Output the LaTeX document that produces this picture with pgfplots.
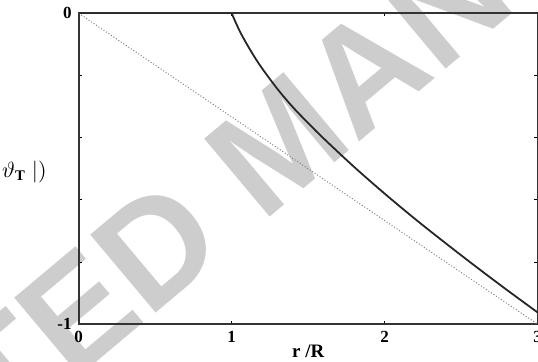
\documentclass[border=0pt]{standalone}
\usepackage{fontspec}
\setmainfont{Liberation Serif}
\newfontfamily\wmfont{Liberation Sans}
\usepackage{pgfplots}
\pgfplotsset{compat=1.18}
\pgfdeclarelayer{background}
\pgfsetlayers{background,main}
\definecolor{wm}{RGB}{205,205,205}
\newcommand{\ylab}{\mbox{$\mathbf{\vartheta}_{\mathbf{T}}\;\mathbf{|)}$}}
\begin{document}
\begin{tikzpicture}
\begin{axis}[name=ax, scale only axis, width=229.5pt, height=155.5pt,
  xmin=0, xmax=3, ymin=-1, ymax=0,
  xtick={0,1,2,3}, xticklabels={0,1,2,3},
  ytick={-1,-0.8,-0.6,-0.4,-0.2,0}, yticklabels={-1,{},{},{},{},0},
  tick label style={font=\bfseries\fontsize{8.5}{9}\selectfont},
  tick align=inside, major tick length=1.6pt,
  every tick/.style={black, line width=0.5pt},
  axis line style={line width=0.9pt, black!80},
  xlabel={r /R},
  xlabel style={font=\bfseries\fontsize{9.5}{11}\selectfont, at={(axis description cs:0.5,0)}, anchor=center, yshift=-13.35pt},
]
\addplot[densely dotted, gray, line width=0.5pt] coordinates {(0,0) (3,-1)};
\addplot[black!85, line width=0.9pt] coordinates {(0,0) (1,0)};
\addplot[black!85, line width=0.9pt, smooth] coordinates {
(1.000,0) (1.050,-0.055) (1.100,-0.100) (1.150,-0.141) (1.200,-0.178)
(1.300,-0.244) (1.400,-0.302) (1.500,-0.353) (1.600,-0.402) (1.800,-0.494)
(2.000,-0.580) (2.200,-0.662) (2.400,-0.740) (2.600,-0.816) (2.800,-0.890) (3.000,-0.962)};
\end{axis}
\path (ax.north west) ++(-39.35pt,6.65pt) coordinate (O);
\path (O) ++(23.5pt,-86pt) node[anchor=east, inner sep=0pt, font=\fontsize{10.5}{12}\selectfont] {\ylab};
\begin{pgfonlayer}{background}
  \path (O) ++(131pt,-112pt) coordinate (W);
  \node[rotate=40, anchor=base west, inner sep=0pt, text=wm, font=\wmfont\bfseries\fontsize{74}{74}\selectfont] at (W) {MANUSCRIPT};
  \node[rotate=40, anchor=base east, inner sep=0pt, text=wm, font=\wmfont\bfseries\fontsize{74}{74}\selectfont] at (W) {ACCEPTED\kern0.278em};
\end{pgfonlayer}
\pgfresetboundingbox
\path (O) rectangle ([xshift=269pt,yshift=-181pt]O);
\end{tikzpicture}
\end{document}
